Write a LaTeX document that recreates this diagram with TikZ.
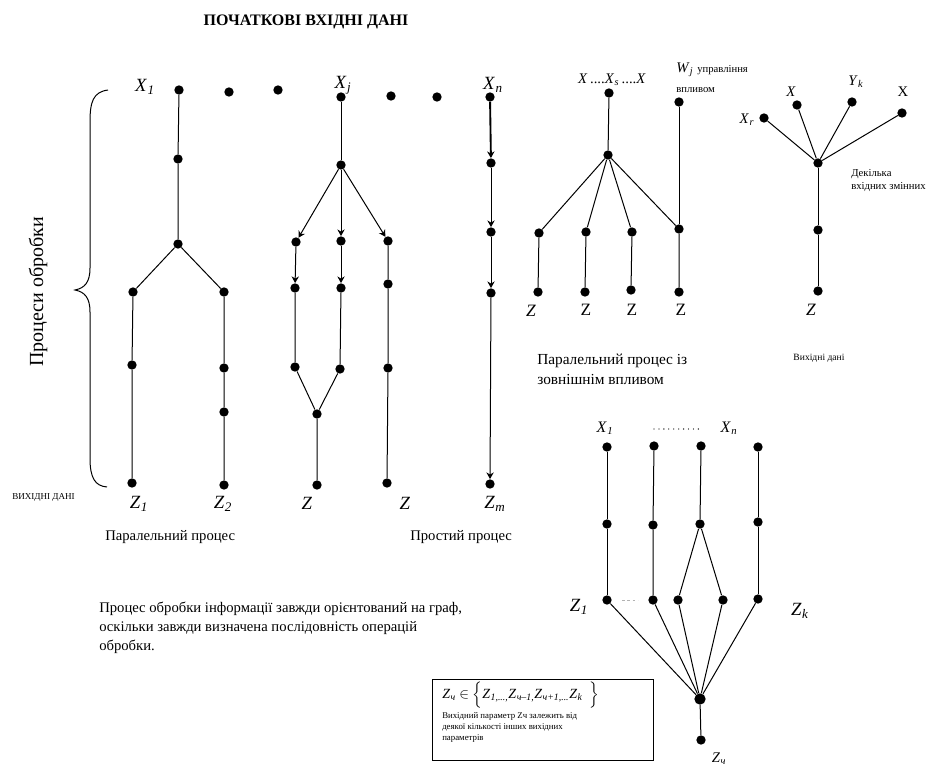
\documentclass[tikz,border=0pt]{standalone}
\usepackage{fontspec}
\setmainfont{Liberation Serif}
\usepackage{amsmath}
\usetikzlibrary{arrows.meta,calc}
\newcommand{\iv}[2]{\textit{#1}\kern0.3pt\textsubscript{\textit{#2}}}
\begin{document}
\begin{tikzpicture}[x=0.75pt,y=-0.75pt,
  dot/.style={circle,fill=black,inner sep=0pt,minimum size=7pt},
  ln/.style={line width=0.75pt},
  arr/.style={line width=0.75pt,-{Stealth[length=5pt,width=5.5pt]}},
  lbl/.style={inner sep=0pt,font=\fontsize{14}{16}\selectfont},
  slbl/.style={inner sep=0pt,font=\fontsize{11}{12}\selectfont},
  txt/.style={inner sep=0pt,anchor=west,font=\fontsize{11}{13}\selectfont},
  small/.style={inner sep=0pt,anchor=west,font=\fontsize{6.8}{8}\selectfont}]
\useasboundingbox (0,0) rectangle (933,767);

% title and side texts
\node[inner sep=0pt,font=\bfseries\fontsize{12}{14}\selectfont] (title) at (306,22) {ПОЧАТКОВІ ВХІДНІ ДАНІ};
\node[inner sep=0pt,rotate=90,font=\fontsize{15}{17}\selectfont] (proc) at (38,292) {Процеси обробки};
\node[small] (vyh) at (12,497) {ВИХІДНІ ДАНІ};
\node[txt] (par) at (105,537) {Паралельний процес};
\node[txt] (prost) at (410,537) {Простий процес};
\node[inner sep=0pt,anchor=north west,align=left,font=\fontsize{11}{14}\selectfont] (para) at (99,602)
  {Процес обробки інформації завжди орієнтований на граф,\\оскільки завжди визначена послідовність операцій\\обробки.};

% brace
\draw[line width=0.75pt] (108,90) .. controls (93,92) and (90,102) .. (90,122) -- (90,268)
  .. controls (90,282) and (85,288) .. (75,290) .. controls (85,292) and (90,298) .. (90,312)
  -- (90,458) .. controls (90,478) and (95,486) .. (107,487);

% ---------- parallel process (left)
\node[dot] (a0) at (179,90) {};
\node[dot] (a1) at (178,159) {};
\node[dot] (a2) at (178,244) {};
\node[dot] (aL1) at (133,292) {};
\node[dot] (aR1) at (224,292) {};
\node[dot] (aL2) at (132,365) {};
\node[dot] (aL3) at (132,483) {};
\node[dot] (aR2) at (224,368) {};
\node[dot] (aR3) at (224,412) {};
\node[dot] (aR4) at (224,485) {};
\draw[ln] (a0)--(a1)--(a2)--(aL1)--(aL2)--(aL3);
\draw[ln] (a2)--(aR1)--(aR2)--(aR3)--(aR4);
\node[dot] (d1) at (229,92) {};
\node[dot] (d2) at (278,90) {};
\node[dot] (d3) at (391,96) {};
\node[dot] (d4) at (437,97) {};
\node[lbl] (lx1) at (145,87) {\iv{X}{1}};
\node[lbl] (lxj) at (343,85) {\iv{X}{j}};
\node[lbl] (lxn) at (493,85) {\iv{X}{n}};

% ---------- middle graph
\node[dot] (b0) at (341,97) {};
\node[dot] (b1) at (341,165) {};
\node[dot] (b2) at (296,242) {};
\node[dot] (b3) at (341,241) {};
\node[dot] (b4) at (388,241) {};
\node[dot] (b5) at (295,288) {};
\node[dot] (b6) at (341,288) {};
\node[dot] (b7) at (388,284) {};
\node[dot] (b8) at (295,367) {};
\node[dot] (b9) at (340,369) {};
\node[dot] (b10) at (388,368) {};
\node[dot] (b11) at (317,414) {};
\node[dot] (b12) at (317,485) {};
\node[dot] (b13) at (387,483) {};
\draw[ln] (b0)--(b1);
\draw[arr] (b1)--(b2);
\draw[arr] (b1)--(b3);
\draw[arr] (b1)--(b4);
\draw[arr] (b2)--(b5);
\draw[arr] (b3)--(b6);
\draw[ln] (b4)--(b7)--(b10)--(b13);
\draw[ln] (b5)--(b8)--(b11)--(b12);
\draw[ln] (b6)--(b9)--(b11);

% ---------- simple process
\node[dot] (c0) at (490,97) {};
\node[dot] (c1) at (491,163) {};
\node[dot] (c2) at (491,232) {};
\node[dot] (c3) at (491,293) {};
\node[dot] (c4) at (490,484) {};
\draw[line width=1.4pt,-{Stealth[length=5pt,width=5.5pt]}] (c0)--(c1);
\draw[arr] (c1)--(c2);
\draw[arr] (c2)--(c3);
\draw[arr] (c3)--(c4);

\node[lbl] (z1) at (139,504) {\iv{Z}{1}};
\node[lbl] (z2) at (223,504) {\iv{Z}{2}};
\node[lbl] (z3) at (307,503) {\textit{Z}};
\node[lbl] (z4) at (405,503) {\textit{Z}};
\node[lbl] (zm) at (495,504) {\iv{Z}{m}};

% ---------- parallel with external influence
\node[slbl] (lxs) at (612,80) {\textit{X}\,....\iv{X}{s}\,....\textit{X}};
\node[slbl,anchor=west] (lw) at (676,70) {\iv{W}{j}};
\node[inner sep=0pt,anchor=west,font=\fontsize{8}{9}\selectfont] (upr) at (697,70) {управління};
\node[inner sep=0pt,anchor=west,font=\fontsize{8}{9}\selectfont] (vpl) at (676,90) {впливом};
\node[dot] (e0) at (609,93) {};
\node[dot] (w0) at (679,102) {};
\node[dot] (e1) at (608,155) {};
\node[dot] (e2) at (539,233) {};
\node[dot] (e3) at (586,232) {};
\node[dot] (e4) at (632,232) {};
\node[dot] (e5) at (679,229) {};
\node[dot] (f2) at (538,292) {};
\node[dot] (f3) at (585,292) {};
\node[dot] (f4) at (631,290) {};
\node[dot] (f5) at (679,292) {};
\draw[ln] (e0)--(e1);
\draw[ln] (e1)--(e2)--(f2);
\draw[ln] (e1)--(e3)--(f3);
\draw[ln] (e1)--(e4)--(f4);
\draw[ln] (e1)--(e5)--(f5);
\draw[ln] (w0)--(e5);
\node[lbl,font=\fontsize{13}{15}\selectfont] (ez1) at (531,311) {\textit{Z}};
\node[lbl,font=\fontsize{13}{15}\selectfont] (ez2) at (586,310) {Z};
\node[lbl,font=\fontsize{13}{15}\selectfont] (ez3) at (632,310) {Z};
\node[lbl,font=\fontsize{13}{15}\selectfont] (ez4) at (681,310) {Z};
\node[txt,align=left,font=\fontsize{11.5}{15}\selectfont,anchor=north west] (ptxt) at (537,354) {Паралельний процес із\\зовнішнім впливом};

% ---------- several inputs
\node[dot] (m1) at (764,118) {};
\node[dot] (m2) at (797,105) {};
\node[dot] (m3) at (852,102) {};
\node[dot] (m4) at (902,113) {};
\node[dot] (mh) at (818,163) {};
\node[dot] (mm) at (818,230) {};
\node[dot] (mb) at (818,291) {};
\draw[ln] (m1)--(mh); \draw[ln] (m2)--(mh); \draw[ln] (m3)--(mh); \draw[ln] (m4)--(mh);
\draw[ln] (mh)--(mm)--(mb);
\node[slbl] (lxr) at (747,120) {\iv{X}{r}};
\node[slbl] (lx2) at (791,92) {\textit{X}};
\node[slbl] (lyk) at (856,82) {\iv{Y}{k}};
\node[slbl] (lx4) at (903,92) {X};
\node[inner sep=0pt,anchor=north west,align=left,font=\fontsize{8}{10}\selectfont] (dek) at (851,169) {Декілька\\вхідних змінних};
\node[lbl,font=\fontsize{13}{15}\selectfont] (mz) at (811,310) {\textit{Z}};
\node[inner sep=0pt,font=\fontsize{7.2}{9}\selectfont] (vd) at (819,358) {Вихідні дані};

% ---------- bottom right graph
\node[dot] (t1) at (607,447) {};
\node[dot] (t2) at (654,446) {};
\node[dot] (t3) at (701,446) {};
\node[dot] (t4) at (758,447) {};
\node[dot] (u1) at (607,524) {};
\node[dot] (u2) at (653,525) {};
\node[dot] (u3) at (700,524) {};
\node[dot] (u4) at (758,522) {};
\node[dot] (v1) at (607,600) {};
\node[dot] (v2) at (653,600) {};
\node[dot] (v3) at (678,600) {};
\node[dot] (v4) at (723,600) {};
\node[dot] (v5) at (758,599) {};
\node[dot,minimum size=8.5pt] (hb) at (700,699) {};
\node[dot] (zu) at (701,740) {};
\draw[ln] (t1)--(u1)--(v1);
\draw[ln] (t2)--(u2)--(v2);
\draw[ln] (t3)--(u3)--(v3);
\draw[ln] (u3)--(v4);
\draw[ln] (t4)--(u4)--(v5);
\foreach \v in {v1,v2,v3,v4,v5} \draw[ln] (\v)--(hb);
\draw[ln] (hb)--(zu);
\coordinate (g1) at (622,600);
\coordinate (g2) at (638,600);
\draw[gray!60,line width=0.5pt,dash pattern=on 2pt off 2pt] (g1)--(g2);
\coordinate (dl) at (654,429);
\coordinate (dr) at (699,429);
\draw[line width=1pt,line cap=round,dash pattern=on 0pt off 3.7pt] (dl)--(dr);
\node[lbl,font=\fontsize{12}{13}\selectfont] (bx1) at (605,428) {\iv{X}{1}};
\node[lbl,font=\fontsize{12}{13}\selectfont] (bxn) at (729,428) {\iv{X}{n}};
\node[lbl] (bz1) at (579,607) {\iv{Z}{1}};
\node[lbl] (bzk) at (800,611) {\iv{Z}{k}};
\node[lbl,font=\fontsize{11}{13}\selectfont] (bzu) at (719,759) {\iv{Z}{ч}};

% box
\draw[line width=0.75pt] (432,679) rectangle (653,760);
\node[inner sep=0pt,anchor=west,font=\fontsize{10.5}{12}\selectfont] (form) at (442,695)
  {\iv{Z}{ч} \(\in\) \(\Big\{\)\iv{Z}{1,...,}\iv{Z}{ч–1,}\iv{Z}{ч+1,...}\iv{Z}{k}\ \ \(\Big\}\)};
\node[inner sep=0pt,anchor=north west,align=left,font=\fontsize{6.6}{8.4}\selectfont] (boxt) at (442,712)
  {Вихідний параметр Zч залежить від\\деякої кількості інших вихідних\\параметрів};
\end{tikzpicture}
\end{document}
